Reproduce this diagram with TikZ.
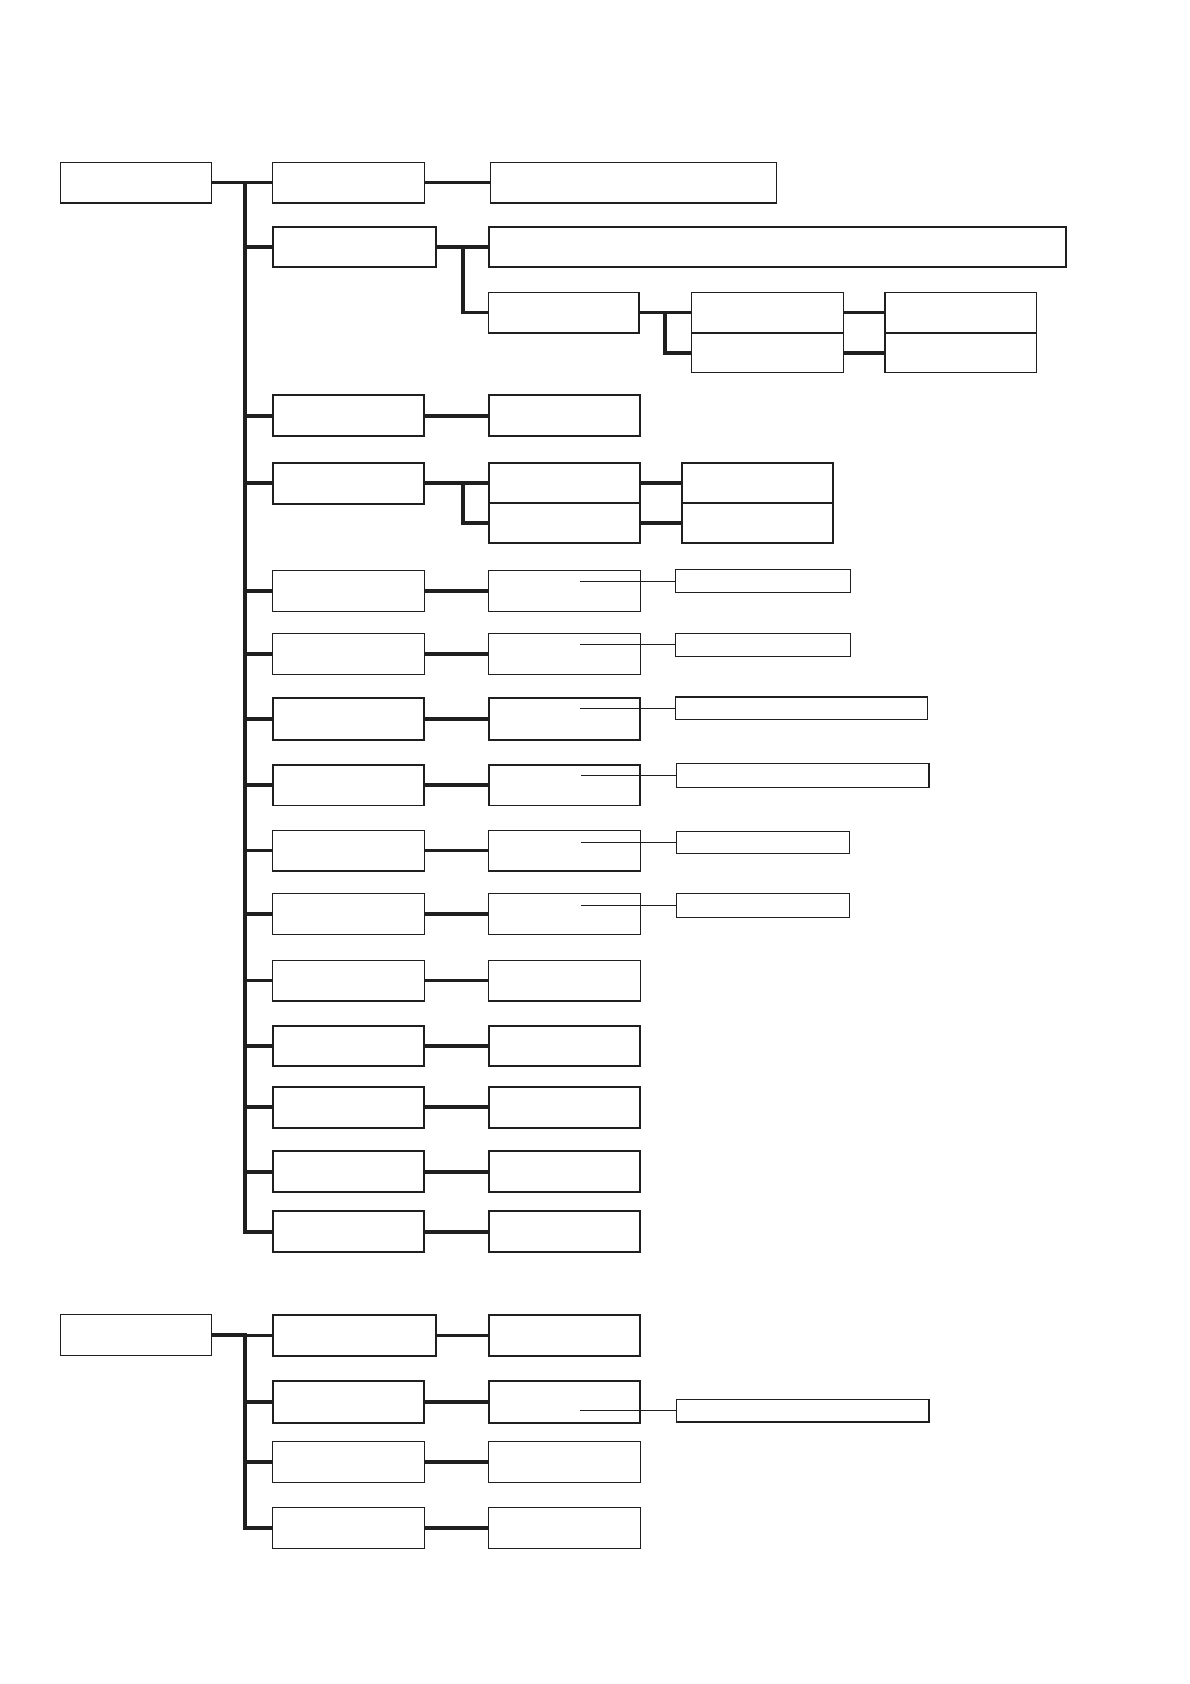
\documentclass[tikz,border=0pt]{standalone}
\begin{document}
\begin{tikzpicture}[x=0.02cm,y=-0.02cm,
  boxst/.style={draw=black!88,line width=0.75pt,inner sep=0pt,outer sep=0pt,fill=white},
  boldbox/.style={line width=1.05pt},
  thinbox/.style={line width=0.6pt},
  conn/.style={draw=black!88,line width=2pt,line join=miter},
  note/.style={draw=black!88,line width=0.55pt}]
\newcommand\bx[6][]{\node[boxst,#1,minimum width={(#5-#3)*0.02cm},minimum height={(#6-#4)*0.02cm},anchor=north west] (#2) at (#3,#4) {};}
\useasboundingbox (0,0) rectangle (1108,1568);
% ---------- first tree ----------
\bx[thinbox]{r1}{56}{151}{197}{189}
\coordinate (sp1) at (228,1147);
% row 1
\bx[thinbox]{a1}{254}{151}{395}{189}
\bx[thinbox]{c1}{457}{151}{723}{189}
% row 2
\bx[boldbox]{a2}{254}{211}{406}{249}
\bx[boldbox]{c2}{455}{211}{993}{249}
\bx[thinbox]{d2}{455}{272}{595}{310}
\bx[thinbox]{e2a}{644}{272}{785}{310}
\bx[thinbox]{e2b}{644}{310}{785}{347}
\bx[thinbox]{f2a}{824}{272}{965}{310}
\bx[thinbox]{f2b}{824}{310}{965}{347}
\coordinate (sb2) at (431,291);
\coordinate (sc2) at (619,328);
% row 3
\bx[boldbox]{a3}{254}{368}{395}{406}
\bx[boldbox]{c3}{455}{368}{596}{406}
% row 4
\bx[boldbox]{a4}{254}{431}{395}{469}
\bx[boldbox]{e4a}{455}{431}{596}{468}
\bx[boldbox]{e4b}{455}{468}{596}{506}
\bx[boldbox]{f4a}{635}{431}{776}{468}
\bx[boldbox]{f4b}{635}{468}{776}{506}
\coordinate (sb4) at (431,487);
% rows 5-10 with side notes
\bx[thinbox]{a5}{254}{531}{395}{569}
\bx[thinbox]{c5}{455}{531}{596}{569}
\bx[thinbox]{n5}{629}{530}{792}{552}
\bx[thinbox]{a6}{254}{590}{395}{628}
\bx[thinbox]{c6}{455}{590}{596}{628}
\bx[thinbox]{n6}{629}{590}{792}{611}
\bx[boldbox]{a7}{254}{650}{395}{689}
\bx[boldbox]{c7}{455}{650}{596}{689}
\bx[thinbox]{n7}{629}{649}{864}{670}
\bx[boldbox]{a8}{254}{712}{395}{750}
\bx[boldbox]{c8}{455}{712}{596}{750}
\bx[thinbox]{n8}{630}{711}{865}{733}
\bx[thinbox]{a9}{254}{773}{395}{811}
\bx[thinbox]{c9}{455}{773}{596}{811}
\bx[thinbox]{n9}{630}{774}{791}{795}
\bx[thinbox]{a10}{254}{832}{395}{870}
\bx[thinbox]{c10}{455}{832}{596}{870}
\bx[thinbox]{n10}{630}{832}{791}{854}
\coordinate (k5) at (540,541);
\coordinate (k6) at (540,600.5);
\coordinate (k7) at (540,659.5);
\coordinate (k8) at (541,722);
\coordinate (k9) at (541,784.5);
\coordinate (k10) at (541,843);
% rows 11-15
\bx[thinbox]{a11}{254}{894}{395}{932}
\bx[thinbox]{c11}{455}{894}{596}{932}
\bx[boldbox]{a12}{254}{955}{395}{993}
\bx[boldbox]{c12}{455}{955}{596}{993}
\bx[boldbox]{a13}{254}{1012}{395}{1050}
\bx[boldbox]{c13}{455}{1012}{596}{1050}
\bx[boldbox]{a14}{254}{1072}{395}{1110}
\bx[boldbox]{c14}{455}{1072}{596}{1110}
\bx[boldbox]{a15}{254}{1128}{395}{1166}
\bx[boldbox]{c15}{455}{1128}{596}{1166}
% connectors tree 1
\draw[conn] (r1.east) -| (sp1) -- (a15.west);
\foreach \i in {1,...,14} {\draw[conn] (a\i.west) -- (a\i.west -| sp1);}
\foreach \i in {1,3,5,6,7,8,9,10,11,12,13,14,15} {\draw[conn] (a\i.east) -- (c\i.west);}
\draw[conn] (a2.east) -- (c2.west);
\draw[conn] (a2.east -| sb2) |- (d2.west);
\draw[conn] (d2.east) -- (e2a.west);
\draw[conn] (d2.east -| sc2) |- (e2b.west);
\draw[conn] (e2a.east) -- (f2a.west);
\draw[conn] (e2b.east) -- (f2b.west);
\draw[conn] (a4.east) -- (a4.east -| e4a.west);
\draw[conn] (a4.east -| sb4) |- (e4b.west);
\draw[conn] (e4a.east) -- (f4a.west);
\draw[conn] (e4b.east) -- (f4b.west);
\foreach \i in {5,...,10} {\draw[note] (k\i) -- (n\i.west);}
% ---------- second tree ----------
\bx[thinbox]{r2}{56}{1224}{197}{1262}
\coordinate (sp2) at (228,1423);
\bx[boldbox]{b1}{254}{1224}{406}{1263}
\bx[boldbox]{d1}{455}{1224}{596}{1263}
\bx[boldbox]{b2}{254}{1286}{395}{1325}
\bx[boldbox]{d2x}{455}{1286}{596}{1325}
\bx[thinbox]{m2}{630}{1303}{865}{1324}
\bx[thinbox]{b3}{254}{1342}{395}{1380}
\bx[thinbox]{d3}{455}{1342}{596}{1380}
\bx[thinbox]{b4}{254}{1404}{395}{1442}
\bx[thinbox]{d4}{455}{1404}{596}{1442}
\coordinate (q2) at (540,1313.5);
\draw[conn] (r2.east) -| (sp2) -- (b4.west);
\draw[conn] (b1.west) -- (b1.west -| sp2);
\draw[conn] (b2.west) -- (b2.west -| sp2);
\draw[conn] (b3.west) -- (b3.west -| sp2);
\draw[conn] (b1.east) -- (d1.west);
\draw[conn] (b2.east) -- (d2x.west);
\draw[conn] (b3.east) -- (d3.west);
\draw[conn] (b4.east) -- (d4.west);
\draw[note] (q2) -- (m2.west);
\end{tikzpicture}
\end{document}
